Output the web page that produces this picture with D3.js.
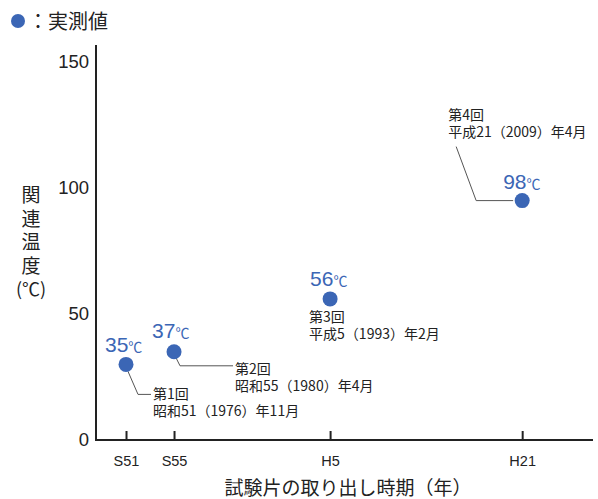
<!DOCTYPE html>
<html>
<head>
<meta charset="utf-8">
<script src="https://cdn.jsdelivr.net/npm/d3@7"></script>
<style>
  body { margin: 0; background: #fff; }
  svg { display: block; }
  text { font-family: "Liberation Sans", Arial, "Noto Sans CJK JP", sans-serif; }
</style>
</head>
<body>
<svg id="chart"></svg>
<script>
// Data
var years = [1976, 1980, 1993, 2009];
var tickLabels = ["S51", "S55", "H5", "H21"];
var temps = [30, 35, 56, 95];
var tempLabels = ["35", "37", "56", "98"];
var rounds = ["第1回", "第2回", "第3回", "第4回"];
var dates = ["昭和51（1976）年11月", "昭和55（1980）年4月", "平成5（1993）年2月", "平成21（2009）年4月"];
var yTicks = [0, 50, 100, 150];

// Label placement relative to each point
var layout = [
    {tx: -21, ty: -12, ax: 27, ay: 35, lead: [[2, 7], [12, 30], [25, 30]]},
    {tx: -22, ty: -14, ax: 61, ay: 22, lead: [[2, 6], [6, 14], [59, 14]]},
    {tx: -20, ty: -13, ax: -21, ay: 23, lead: null},
    {tx: -19, ty: -12, ax: -74, ay: -81, lead: [[-66, -54], [-46, 0], [-9, 0]]}
];

var blue = "#3b66b5";
var width = 598, height = 499;
var cjk = "'Noto Sans CJK JP', sans-serif";

var svg = d3.select("#chart")
    .attr("width", width)
    .attr("height", height);

var xScale = d3.scaleLinear()
    .domain([1973.5, 2014.9])
    .range([96, 593]);

var yScale = d3.scaleLinear()
    .domain([0, 150])
    .range([440, 62]);

// axes
var xAxis = d3.axisBottom(xScale)
    .tickValues(years)
    .tickFormat(function(d, i) { return tickLabels[i]; })
    .tickSizeInner(-9)
    .tickSizeOuter(0)
    .tickPadding(16);

var gx = svg.append("g")
    .attr("transform", "translate(0,440)")
    .call(xAxis);
gx.select(".domain").attr("stroke", "#222").attr("stroke-width", 2)
    .attr("d", "M96,0H593");
gx.selectAll(".tick line").attr("stroke", "#222").attr("stroke-width", 2);
gx.selectAll(".tick text")
    .attr("font-size", 14.5)
    .attr("fill", "#222")
    .attr("font-family", "'Liberation Sans', Arial, sans-serif");

var yAxis = d3.axisLeft(yScale)
    .tickValues(yTicks)
    .tickSize(0)
    .tickPadding(7);

var gy = svg.append("g")
    .attr("transform", "translate(96,0)")
    .call(yAxis);
gy.select(".domain").attr("stroke", "#222").attr("stroke-width", 2)
    .attr("d", "M0,45V441");
gy.selectAll(".tick text")
    .attr("font-size", 18.5)
    .attr("fill", "#222")
    .attr("font-family", "'Liberation Sans', Arial, sans-serif");

// axis titles
svg.append("text")
    .attr("x", 348)
    .attr("y", 495)
    .attr("text-anchor", "middle")
    .attr("font-size", 19)
    .attr("fill", "#222")
    .style("font-family", cjk)
    .text("試験片の取り出し時期（年）");

var yTitle = ["関", "連", "温", "度"];
svg.append("g").selectAll("text")
    .data(yTitle)
    .enter()
    .append("text")
    .attr("x", 31)
    .attr("y", function(d, i) { return 202 + i * 23.5; })
    .attr("text-anchor", "middle")
    .attr("font-size", 19)
    .attr("fill", "#222")
    .style("font-family", cjk)
    .text(function(d) { return d; });
svg.append("text")
    .attr("x", 31)
    .attr("y", 296)
    .attr("text-anchor", "middle")
    .attr("font-size", 18)
    .attr("fill", "#222")
    .style("font-family", cjk)
    .text("(℃)");

// legend
svg.append("circle")
    .attr("cx", 18)
    .attr("cy", 21)
    .attr("r", 7)
    .attr("fill", blue);
svg.append("text")
    .attr("x", 28)
    .attr("y", 29)
    .attr("font-size", 20)
    .attr("fill", "#222")
    .style("font-family", cjk)
    .text("：実測値");

// data points and labels
var points = years.map(function(y, i) {
    return {x: xScale(y), y: yScale(temps[i]), i: i};
});

var g = svg.append("g");

// leader lines
g.selectAll("path.lead")
    .data(points.filter(function(p) { return layout[p.i].lead; }))
    .enter()
    .append("path")
    .classed("lead", true)
    .attr("fill", "none")
    .attr("stroke", "#555")
    .attr("stroke-width", 1)
    .attr("d", function(p) {
        return d3.line()(layout[p.i].lead.map(function(o) {
            return [p.x + o[0], p.y + o[1]];
        }));
    });

g.selectAll("circle")
    .data(points)
    .enter()
    .append("circle")
    .attr("cx", function(p) { return p.x; })
    .attr("cy", function(p) { return p.y; })
    .attr("r", 7.5)
    .attr("fill", blue);

// temperature labels
var tl = g.selectAll("text.temp")
    .data(points)
    .enter()
    .append("text")
    .classed("temp", true)
    .attr("x", function(p) { return p.x + layout[p.i].tx; })
    .attr("y", function(p) { return p.y + layout[p.i].ty; })
    .attr("fill", blue)
    .attr("font-family", "'Liberation Sans', Arial, sans-serif");
tl.append("tspan")
    .attr("font-size", 21)
    .text(function(p) { return tempLabels[p.i]; });
tl.append("tspan")
    .attr("font-size", 14)
    .style("font-family", cjk)
    .text("℃");

// round / date annotations (two lines in one text)
var an = g.selectAll("text.note")
    .data(points)
    .enter()
    .append("text")
    .classed("note", true)
    .attr("font-size", 14)
    .attr("fill", "#222")
    .style("font-family", cjk);
an.append("tspan")
    .attr("x", function(p) { return p.x + layout[p.i].ax; })
    .attr("y", function(p) { return p.y + layout[p.i].ay; })
    .text(function(p) { return rounds[p.i]; });
an.append("tspan")
    .attr("x", function(p) { return p.x + layout[p.i].ax; })
    .attr("y", function(p) { return p.y + layout[p.i].ay + 17; })
    .text(function(p) { return dates[p.i]; });
</script>
</body>
</html>
